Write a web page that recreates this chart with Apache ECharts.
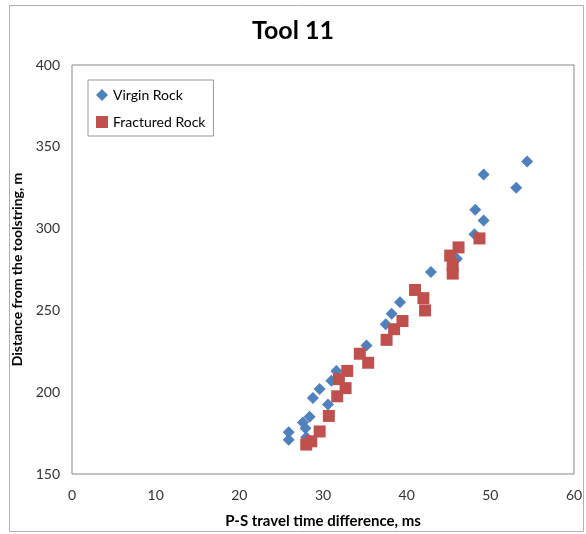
<!DOCTYPE html>
<html>
<head>
<meta charset="utf-8">
<script src="https://cdn.jsdelivr.net/npm/echarts@6/dist/echarts.min.js"></script>
<style>
html,body{margin:0;padding:0;background:#fff;}
#chart{width:586px;height:534px;}
</style>
</head>
<body>
<div id="chart"></div>
<script>
// Virgin Rock: [P-S time difference (ms), distance (m)]
var virginRock = [
	[54.4, 341], [49.2, 333], [53.1, 325], [48.2, 311.5], [49.2, 305], [48.1, 296.5],
	[46.0, 281.5], [42.9, 273.5], [39.2, 255], [38.2, 248], [37.5, 241.5],
	[35.2, 228.5], [31.6, 213], [31.0, 207], [29.6, 202], [28.8, 196.5],
	[30.6, 192.5], [28.4, 185], [27.6, 181.5], [27.9, 178], [28.0, 172.5],
	[25.9, 175.5], [25.9, 171]
];
// Fractured Rock
var fracturedRock = [
	[48.7, 294], [46.2, 288.5], [45.2, 283.5], [45.5, 277.5], [45.5, 272.5],
	[41.0, 262.5], [42.0, 257.5], [42.2, 250], [39.5, 243.5], [38.5, 238.5],
	[37.6, 232], [34.4, 223.5], [35.4, 218], [32.9, 213], [31.9, 208],
	[32.7, 202.5], [31.7, 197.5], [30.7, 185.5], [29.6, 176], [28.6, 170], [28.0, 168]
];
var xTicks = [0, 60, 10];
var yTicks = [150, 400, 50];

var myChart = echarts.init(document.getElementById('chart'));
var fontFam = 'Lato, "Open Sans", sans-serif';
var option = {
	backgroundColor: '#fff',
	animation: false,
	title: {
		text: 'Tool 11',
		left: 'center',
		top: 13,
		textStyle: {fontFamily: fontFam, fontSize: 25, fontWeight: 'bold', color: '#000'}
	},
	graphic: [
		{
			type: 'rect',
			shape: {x: 9.5, y: 5.5, width: 574, height: 526},
			style: {fill: 'none', stroke: '#b0b0b0', lineWidth: 1},
			silent: true,
			z: -1
		}
	],
	legend: {
		orient: 'vertical',
		left: 88,
		top: 80,
		padding: [8, 8, 7, 8],
		itemGap: 13,
		itemWidth: 12,
		itemHeight: 12,
		borderColor: '#999',
		borderWidth: 1,
		textStyle: {fontFamily: fontFam, fontSize: 14, color: '#000'},
		data: [
			{name: 'Virgin Rock', icon: 'diamond'},
			{name: 'Fractured Rock', icon: 'rect'}
		]
	},
	grid: {
		left: 72,
		right: 12,
		top: 65,
		bottom: 59,
		show: true,
		borderColor: '#888',
		borderWidth: 1
	},
	xAxis: {
		type: 'value',
		min: xTicks[0],
		max: xTicks[1],
		interval: xTicks[2],
		name: 'P-S travel time difference, ms',
		nameLocation: 'middle',
		nameGap: 40,
		nameTextStyle: {fontFamily: fontFam, fontSize: 15, fontWeight: 'bold', color: '#000'},
		axisLine: {show: false},
		axisTick: {show: false},
		splitLine: {show: false},
		axisLabel: {fontFamily: fontFam, fontSize: 14, color: '#333', margin: 14}
	},
	yAxis: {
		type: 'value',
		min: yTicks[0],
		max: yTicks[1],
		interval: yTicks[2],
		name: 'Distance from the toolstring, m',
		nameLocation: 'middle',
		nameGap: 46,
		nameTextStyle: {fontFamily: fontFam, fontSize: 14, fontWeight: 'bold', color: '#000'},
		axisLine: {show: false},
		axisTick: {show: false},
		splitLine: {show: false},
		axisLabel: {fontFamily: fontFam, fontSize: 14, color: '#333', margin: 12}
	},
	series: [
		{
			name: 'Virgin Rock',
			type: 'scatter',
			symbol: 'diamond',
			symbolSize: 12,
			itemStyle: {color: '#4F81BD', opacity: 1},
			data: virginRock
		},
		{
			name: 'Fractured Rock',
			type: 'scatter',
			symbol: 'rect',
			symbolSize: 12,
			itemStyle: {color: '#C0504D', opacity: 1},
			data: fracturedRock
		}
	]
};
myChart.setOption(option);
</script>
</body>
</html>
